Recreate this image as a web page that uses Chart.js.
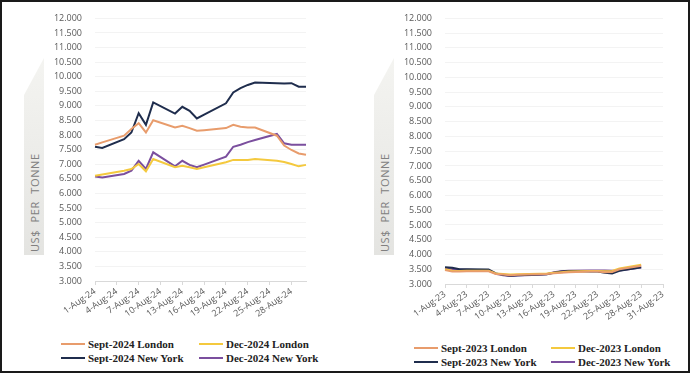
<!DOCTYPE html>
<html>
<head>
<meta charset="utf-8">
<script src="https://cdn.jsdelivr.net/npm/chart.js@4.4.1/dist/chart.umd.min.js"></script>
<style>
  body { margin: 0; background: #fff; }
  #frame { position: absolute; left: 0; top: 0; width: 690px; height: 373px; box-sizing: border-box; border: 2px solid #1a1a1a; }
  .box { position: absolute; top: 0; height: 330px; }
  .tab { position: absolute; width: 20px; background: linear-gradient(#f4f4f1, #e4e4e1); clip-path: polygon(0 37px, 100% 0, 100% 100%, 0 100%); }
  .ytitle { position: absolute; transform: rotate(-90deg); transform-origin: left top; font: 11px 'Open Sans'; color: #808080; letter-spacing: 0.6px; word-spacing: 4px; white-space: nowrap; }
  .item { position: absolute; white-space: nowrap; display: flex; align-items: center; font: bold 11px 'Liberation Serif'; color: #222; height: 14px; }
  .item i { display: inline-block; width: 24px; height: 2px; margin-right: 3px; }
</style>
</head>
<body>
<div id="frame"></div>

<div class="tab" style="left:24px;top:58px;height:197px"></div>
<div class="ytitle" style="left:27px;top:252px">US$ PER TONNE</div>
<div class="tab" style="left:374px;top:58px;height:197px"></div>
<div class="ytitle" style="left:377px;top:252px">US$ PER TONNE</div>

<div class="box" style="left:0;width:320px"><canvas id="chart24"></canvas></div>
<div class="box" style="left:350px;width:330px"><canvas id="chart23"></canvas></div>
<div id="legend24"></div>
<div id="legend23"></div>

<script>
// August 2024 (left chart)
const labels24 = ['1-Aug-24','2-Aug-24','3-Aug-24','4-Aug-24','5-Aug-24','6-Aug-24','7-Aug-24','8-Aug-24','9-Aug-24','10-Aug-24',
  '11-Aug-24','12-Aug-24','13-Aug-24','14-Aug-24','15-Aug-24','16-Aug-24','17-Aug-24','18-Aug-24','19-Aug-24','20-Aug-24',
  '21-Aug-24','22-Aug-24','23-Aug-24','24-Aug-24','25-Aug-24','26-Aug-24','27-Aug-24','28-Aug-24','29-Aug-24','30-Aug-24'];
const days24 = [1,2,5,6,7,8,9,12,13,14,15,16,19,20,21,22,23,26,27,28,29,30];
const septLondon24 = [7670,7750,7980,8210,8410,8090,8510,8260,8320,8240,8150,8170,8240,8350,8290,8260,8260,7980,7640,7490,7370,7330];
const decLondon24  = [6610,6650,6780,6840,7010,6760,7180,6900,6950,6900,6840,6900,7070,7150,7150,7150,7180,7120,7080,7010,6930,6980];
const septNY24     = [7600,7560,7860,8090,8750,8350,9120,8740,8970,8830,8570,8700,9090,9460,9610,9720,9800,9780,9770,9780,9660,9660];
const decNY24      = [6580,6550,6670,6780,7120,6840,7410,6930,7120,6980,6900,6990,7260,7600,7670,7760,7830,8040,7720,7670,7670,7670];

// August 2023 (right chart)
const labels23 = ['1-Aug-23','2-Aug-23','3-Aug-23','4-Aug-23','5-Aug-23','6-Aug-23','7-Aug-23','8-Aug-23','9-Aug-23','10-Aug-23',
  '11-Aug-23','12-Aug-23','13-Aug-23','14-Aug-23','15-Aug-23','16-Aug-23','17-Aug-23','18-Aug-23','19-Aug-23','20-Aug-23',
  '21-Aug-23','22-Aug-23','23-Aug-23','24-Aug-23','25-Aug-23','26-Aug-23','27-Aug-23','28-Aug-23','29-Aug-23','30-Aug-23','31-Aug-23'];
const days23 = [1,2,3,4,7,8,9,10,11,14,15,16,17,18,21,22,23,24,25,28];
const septLondon23 = [3470,3420,3420,3430,3430,3340,3320,3300,3310,3330,3340,3360,3380,3400,3420,3420,3400,3410,3500,3620];
const decLondon23  = [3500,3450,3440,3450,3450,3360,3340,3320,3330,3350,3360,3380,3400,3420,3440,3440,3430,3440,3530,3650];
const septNY23     = [3570,3550,3500,3500,3490,3360,3310,3280,3300,3320,3330,3380,3420,3440,3420,3420,3380,3360,3450,3570];
const decNY23      = [3540,3510,3480,3480,3470,3350,3300,3270,3290,3310,3330,3400,3430,3450,3460,3460,3460,3450,3460,3560];

const colors = { septLondon: '#e89c6c', decLondon: '#f4c93e', septNY: '#1f2d4d', decNY: '#7b4f9e' };

function points(labels, days, values) {
  return days.map((d, i) => ({ x: labels[d - 1], y: values[i] }));
}

function makeChart(id, labels, days, series, padRight, bottom) {
  const datasets = series.map(s => ({
    label: s.name,
    data: points(labels, days, s.values),
    borderColor: s.color,
    backgroundColor: s.color,
    borderWidth: 2,
    pointRadius: 0,
    tension: 0,
    spanGaps: true
  }));
  const canvasH = 330;
  return new Chart(document.getElementById(id), {
    type: 'line',
    data: { labels: labels, datasets: datasets },
    options: {
      responsive: true,
      maintainAspectRatio: false,
      animation: false,
      layout: { padding: { left: 0, top: 17, right: padRight, bottom: 0 } },
      plugins: { legend: { display: false }, tooltip: { enabled: false } },
      scales: {
        x: {
          type: 'category',
          grid: {
            drawOnChartArea: false,
            tickLength: 4,
            color: ctx => (ctx.index % 3 === 0 ? '#d9d9d9' : 'rgba(0,0,0,0)')
          },
          border: { color: '#d9d9d9' },
          ticks: {
            autoSkip: false,
            minRotation: 35,
            maxRotation: 35,
            padding: 1,
            color: '#595959',
            font: { family: 'Open Sans', size: 9 },
            callback: function (val, i) { return i % 3 === 0 ? this.getLabelForValue(val) : ''; }
          },
          afterFit: s => { s.height = canvasH - bottom; }
        },
        y: {
          min: 3000,
          max: 12000,
          grid: { color: '#f3f3f3', drawTicks: false },
          border: { display: false },
          ticks: {
            stepSize: 500,
            padding: 13,
            color: '#595959',
            font: { family: 'Open Sans', size: 9 },
            callback: v => (v / 1000).toFixed(3)
          },
          afterFit: s => { s.width = 95; }
        }
      }
    }
  });
}

function makeLegend(id, chart, left, top, colX) {
  const el = document.getElementById(id);
  chart.data.datasets.forEach((ds, i) => {
    const col = i % 2, row = Math.floor(i / 2);
    const div = document.createElement('div');
    div.className = 'item';
    div.style.left = (left + colX[col]) + 'px';
    div.style.top = (top + row * 14 - 7) + 'px';
    div.innerHTML = `<i style="background:${ds.borderColor}"></i>${ds.label}`;
    el.appendChild(div);
  });
}

const chart24 = makeChart('chart24', labels24, days24, [
  { name: 'Sept-2024 London', values: septLondon24, color: colors.septLondon },
  { name: 'Dec-2024 London', values: decLondon24, color: colors.decLondon },
  { name: 'Sept-2024 New York', values: septNY24, color: colors.septNY },
  { name: 'Dec-2024 New York', values: decNY24, color: colors.decNY }
], 14, 281);

const chart23 = makeChart('chart23', labels23, days23, [
  { name: 'Sept-2023 London', values: septLondon23, color: colors.septLondon },
  { name: 'Dec-2023 London', values: decLondon23, color: colors.decLondon },
  { name: 'Sept-2023 New York', values: septNY23, color: colors.septNY },
  { name: 'Dec-2023 New York', values: decNY23, color: colors.decNY }
], 17, 284);

makeLegend('legend24', chart24, 0, 344, [61, 199]);
makeLegend('legend23', chart23, 0, 348, [414, 551]);
</script>
</body>
</html>
